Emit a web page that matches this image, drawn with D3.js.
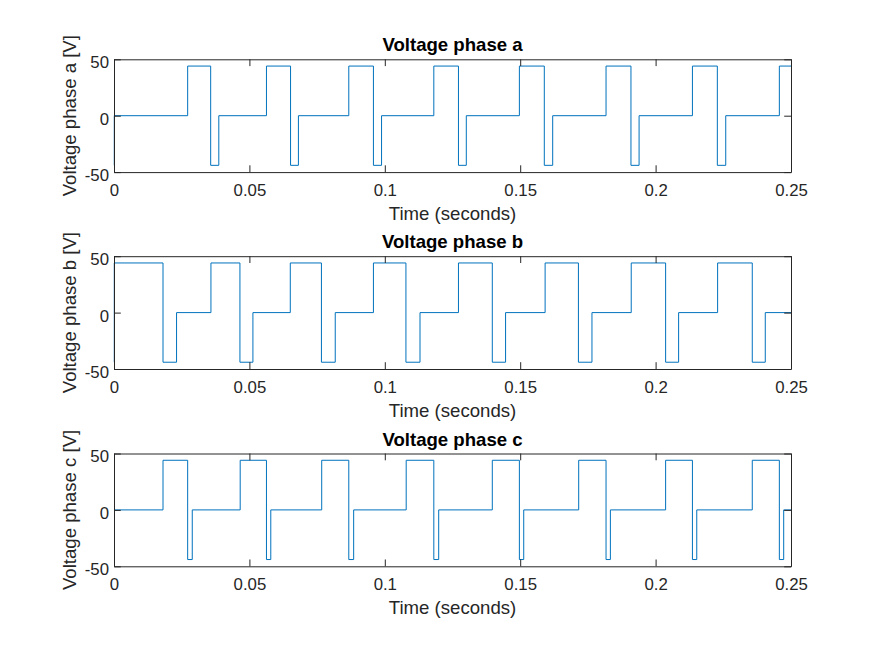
<!DOCTYPE html>
<html>
<head>
<meta charset="utf-8">
<script src="https://cdn.jsdelivr.net/npm/d3@7"></script>
<style>
  html, body { margin: 0; padding: 0; background: #fff; }
  svg { display: block; }
  text { font-family: "Liberation Sans", Arial, Helvetica, sans-serif; }
</style>
</head>
<body>
<svg id="chart" width="875" height="656"></svg>
<script>
// ---------------- data ----------------
const titles = ["Voltage phase a", "Voltage phase b", "Voltage phase c"];
const yLabels = ["Voltage phase a [V]", "Voltage phase b [V]", "Voltage phase c [V]"];
const xLabel = "Time (seconds)";
const xTicks = [0, 0.05, 0.1, 0.15, 0.2, 0.25];
const xTickLabels = ["0", "0.05", "0.1", "0.15", "0.2", "0.25"];
const yTicks = [-50, 0, 50];
const yTickLabels = ["-50", "0", "50"];
const xDomain = [0, 0.25];
const yDomain = [-50, 50];

// step signals: value holds from each time until the next one
const phaseATimes = [0, 0.0001, 0.0272, 0.0357, 0.0387, 0.0563, 0.0652, 0.0681, 0.0867, 0.0958, 0.0988,
  0.1181, 0.1272, 0.1301, 0.1497, 0.1589, 0.1620, 0.1817, 0.1909, 0.1939, 0.2136, 0.2228, 0.2259, 0.2457, 0.25];
const phaseAValues = [-44, 0, 44, -44, 0, 44, -44, 0, 44, -44, 0,
  44, -44, 0, 44, -44, 0, 44, -44, 0, 44, -44, 0, 44, 44];

const phaseBTimes = [0, 0.0001, 0.0181, 0.0231, 0.0358, 0.0465, 0.0513, 0.0651, 0.0766, 0.0817, 0.0958,
  0.1078, 0.1130, 0.1272, 0.1397, 0.1446, 0.1592, 0.1715, 0.1765, 0.1910, 0.2037, 0.2085, 0.2229, 0.2357, 0.2405, 0.25];
const phaseBValues = [-44, 44, -44, 0, 44, -44, 0, 44, -44, 0, 44,
  -44, 0, 44, -44, 0, 44, -44, 0, 44, -44, 0, 44, -44, 0, 0];

const phaseCTimes = [0, 0.0181, 0.0272, 0.0289, 0.0466, 0.0563, 0.0579, 0.0767, 0.0867, 0.0885, 0.1079,
  0.1181, 0.1199, 0.1397, 0.1497, 0.1513, 0.1716, 0.1817, 0.1833, 0.2037, 0.2136, 0.2152, 0.2357, 0.2457, 0.2473, 0.25];
const phaseCValues = [0, 44, -44, 0, 44, -44, 0, 44, -44, 0, 44,
  -44, 0, 44, -44, 0, 44, -44, 0, 44, -44, 0, 44, -44, 0, 0];

const series = [
  [phaseATimes, phaseAValues],
  [phaseBTimes, phaseBValues],
  [phaseCTimes, phaseCValues]
];

// ---------------- layout ----------------
const W = 875, H = 656;
const axLeft = 114, axRight = 791;
const panelTops = [59.3, 256.2, 453.5];
const panelH = 112.8;
const tickLen = 6.8;
const axisColor = "#262626";
const lineColor = "#0072BD";
const tickFont = 16.8, labelFont = 18.6, titleFont = 18.6;

const svg = d3.select("#chart");
svg.append("rect").attr("width", W).attr("height", H).attr("fill", "#fff");

const x = d3.scaleLinear().domain(xDomain).range([axLeft, axRight]);

series.forEach(([ts, vs], i) => {
  const top = panelTops[i], bottom = top + panelH;
  const y = d3.scaleLinear().domain(yDomain).range([bottom, top]);
  const g = svg.append("g");

  g.append("rect").attr("x", axLeft).attr("y", top)
    .attr("width", axRight - axLeft).attr("height", panelH).attr("fill", "#fff");

  // data line
  const pts = ts.map((t, k) => [t, vs[k]]);
  const line = d3.line().x(d => x(d[0])).y(d => y(d[1])).curve(d3.curveStepAfter);
  const clipId = "clip" + i;
  g.append("clipPath").attr("id", clipId).append("rect")
    .attr("x", axLeft - 1).attr("y", top - 1).attr("width", axRight - axLeft + 2).attr("height", panelH + 2);
  g.append("path").datum(pts).attr("d", line)
    .attr("fill", "none").attr("stroke", lineColor).attr("stroke-width", 1)
    .attr("clip-path", `url(#${clipId})`);

  // axes (box with inward ticks on all sides)
  const xb = g.append("g").attr("transform", `translate(0,${bottom})`)
    .call(d3.axisBottom(x).tickValues(xTicks).tickFormat((d, k) => xTickLabels[k])
      .tickSizeInner(-tickLen).tickSizeOuter(0));
  xb.selectAll("text").attr("y", 23.7).attr("dy", null);
  const xt = g.append("g").attr("transform", `translate(0,${top})`)
    .call(d3.axisTop(x).tickValues(xTicks).tickFormat("").tickSizeInner(-tickLen).tickSizeOuter(0));
  const yl = g.append("g").attr("transform", `translate(${axLeft},0)`)
    .call(d3.axisLeft(y).tickValues(yTicks).tickFormat((d, k) => yTickLabels[k])
      .tickSizeInner(-tickLen).tickSizeOuter(0).tickPadding(5));
  yl.selectAll("text").attr("dy", "0.5em");
  const yr = g.append("g").attr("transform", `translate(${axRight},0)`)
    .call(d3.axisRight(y).tickValues(yTicks).tickFormat("").tickSizeInner(-tickLen).tickSizeOuter(0));

  [xb, xt, yl, yr].forEach(a => {
    a.select(".domain").attr("stroke", axisColor).attr("stroke-width", 1);
    a.selectAll(".tick line").attr("stroke", axisColor).attr("stroke-width", 1);
    a.selectAll("text").attr("fill", axisColor).attr("font-size", tickFont)
      .attr("font-family", '"Liberation Sans", Arial, Helvetica, sans-serif');
  });

  // title
  g.append("text").attr("x", (axLeft + axRight) / 2).attr("y", top - 8)
    .attr("text-anchor", "middle").attr("font-weight", "bold")
    .attr("font-size", titleFont).attr("fill", "#000").text(titles[i]);

  // x label
  g.append("text").attr("x", (axLeft + axRight) / 2).attr("y", bottom + 47.7)
    .attr("text-anchor", "middle").attr("font-size", labelFont)
    .attr("fill", axisColor).text(xLabel);

  // y label
  g.append("text")
    .attr("transform", `translate(75.5,${(top + bottom) / 2}) rotate(-90)`)
    .attr("text-anchor", "middle").attr("font-size", labelFont)
    .attr("fill", axisColor).text(yLabels[i]);
});
</script>
</body>
</html>
